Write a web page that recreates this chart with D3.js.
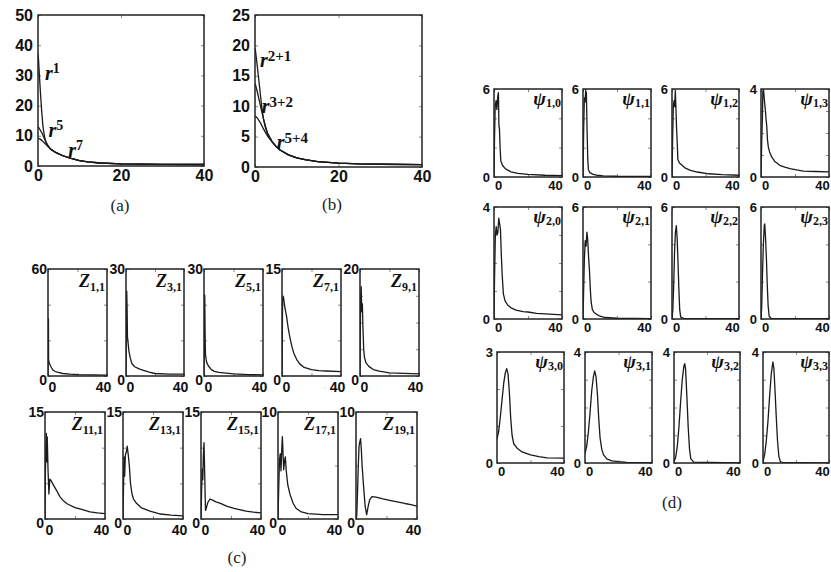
<!DOCTYPE html>
<html><head><meta charset="utf-8">
<script src="https://cdn.jsdelivr.net/npm/d3@7"></script>
<style>body{margin:0;background:#fff}svg{display:block}</style>
</head><body>
<svg id="c" width="831" height="572"></svg>
<script>
// ---------------- DATA ----------------
// Panel (a): radial functions r^1, r^5, r^7
const a_r1 = [[0.05,37],[0.3,31],[0.6,24],[0.9,18],[1.2,13],[1.6,9.5],[2,7.5],[3,5.6],[4,4.7],[5,4],[6,3.4],[7,2.9],[8,2.5],[10,1.8],[12,1.4],[15,1.0],[20,0.7],[25,0.6],[30,0.55],[40,0.5]];
const a_r5 = [[0.05,13],[0.5,12],[1,10.8],[1.5,9.2],[2,7.8],[2.5,6.5],[3,5.6],[4,4.7],[5,4],[6,3.4],[7,2.9],[8,2.5],[10,1.8],[12,1.4],[15,1.0],[20,0.7],[25,0.6],[30,0.55],[40,0.5]];
const a_r7 = [[0.05,9.2],[0.5,8.9],[1,8.4],[1.5,7.7],[2,7],[2.5,6.3],[3,5.7],[4,4.7],[5,4],[6,3.4],[7,2.9],[8,2.5],[10,1.8],[12,1.4],[15,1.0],[20,0.7],[25,0.6],[30,0.55],[40,0.5]];
const a_yTicks = [0,10,20,30,40,50];
// Panel (b): r^2+1, r^3+2, r^5+4
const b_r2p1 = [[0.05,19.5],[0.4,17.5],[0.8,15],[1.2,12.5],[1.6,10],[2,8],[2.5,6.5],[3,5.4],[4,4.3],[5,3.4],[6,2.8],[8,2],[10,1.5],[12,1.2],[15,0.9],[20,0.65],[25,0.5],[30,0.45],[40,0.4]];
const b_r3p2 = [[0.05,13.7],[0.5,12.5],[1,11],[1.5,9.5],[2,8],[2.5,6.7],[3,5.6],[4,4.3],[5,3.4],[6,2.8],[8,2],[10,1.5],[12,1.2],[15,0.9],[20,0.65],[25,0.5],[30,0.45],[40,0.4]];
const b_r5p4 = [[0.05,8.4],[0.5,8.1],[1,7.6],[1.5,7],[2,6.3],[2.5,5.7],[3,5.1],[4,4.2],[5,3.4],[6,2.8],[8,2],[10,1.5],[12,1.2],[15,0.9],[20,0.65],[25,0.5],[30,0.45],[40,0.4]];
const b_yTicks = [0,5,10,15,20,25];
const ab_xTicks = [0,20,40];

// Panel (c): Zernike-like radial profiles
const Z1_1  = [[0,0],[0.1,32],[0.3,32],[0.4,9],[0.8,7.5],[1.5,6],[2.5,4.5],[3.5,3.2],[5,2.5],[7,2],[10,1.4],[15,1],[20,0.8],[30,0.6],[40,0.5]];
const Z3_1  = [[0,0],[0.3,22],[0.5,23.8],[0.8,18],[1,11],[1.5,9],[2,7],[3,5],[4,3.5],[6,2.6],[9,2],[12,1.6],[16,1.1],[20,0.7],[30,0.55],[40,0.5]];
const Z5_1  = [[0,0],[0.3,15],[0.5,22.7],[0.8,10],[1,6],[1.5,4.5],[2,3.6],[3,2.8],[5,1.8],[7,1.3],[10,1],[15,0.8],[20,0.6],[30,0.4],[40,0.3]];
const Z7_1  = [[0,0],[0.4,10.5],[0.8,11.2],[1.2,10.8],[2,9.5],[3,8.5],[4,7],[5,5.8],[6,4.8],[7,3.9],[8,3.2],[10,2.3],[12,1.7],[15,1.2],[20,0.9],[25,0.75],[30,0.7],[40,0.6]];
const Z9_1  = [[0,0],[0.4,14],[0.8,16.7],[1.2,12],[1.6,13.5],[2,9],[2.5,5],[3,3.5],[4,2.5],[6,1.8],[9,1.2],[13,0.9],[20,0.6],[30,0.5],[40,0.4]];
const Z11_1 = [[0,0],[0.3,7],[0.6,10],[0.9,12],[1.2,8],[1.5,11.5],[2,7],[2.6,3.5],[3.2,5.6],[4,5.4],[5,5],[6,4.6],[8,3.9],[10,3.1],[12,2.6],[15,2.1],[20,1.6],[25,1.3],[30,1],[35,0.85],[40,0.75]];
const Z13_1 = [[0,0],[0.3,4],[0.7,8.7],[1.1,6],[1.6,9],[2.2,9.4],[2.8,10.2],[3.5,9],[4.2,7.5],[5,5],[6,3.5],[7,2.8],[9,2.2],[12,1.6],[18,1.1],[25,0.7],[32,0.55],[40,0.45]];
const Z15_1 = [[0,0],[0.4,4],[0.8,7],[1.2,5.5],[1.6,9],[2,10.7],[2.5,6],[3,1.2],[3.5,1.5],[4.5,2.3],[6,2.8],[8,2.6],[10,2.4],[13,2.2],[17,1.8],[22,1.5],[30,1.1],[35,0.95],[40,0.85]];
const Z17_1 = [[0,0],[0.5,3],[1,5.5],[1.5,6.1],[2,4.5],[2.5,6.5],[2.9,7.7],[3.4,6],[3.8,4.6],[4.4,5.5],[4.9,5.8],[5.5,4.5],[6.5,3.2],[8,2.3],[10,1.5],[12,1],[15,0.7],[20,0.5],[30,0.4],[40,0.4]];
const Z19_1 = [[0,0],[0.5,0.3],[1,2.5],[1.5,5],[2,6.8],[2.5,7.2],[3,7.5],[3.5,6.5],[4,5],[5,3],[6,1.2],[7,0.4],[8,1.2],[9,1.8],[10.5,2.1],[13,2.05],[17,1.9],[22,1.75],[27,1.6],[32,1.45],[36,1.35],[40,1.2]];
const zSeries = [Z1_1,Z3_1,Z5_1,Z7_1,Z9_1,Z11_1,Z13_1,Z15_1,Z17_1,Z19_1];
const zNames  = ["1,1","3,1","5,1","7,1","9,1","11,1","13,1","15,1","17,1","19,1"];
const zMax    = [60,30,30,15,20,15,15,15,10,10];

// Panel (d): psi_{n,m} radial profiles
const psi1_0 = [[0,0],[0.3,2.6],[0.7,4.8],[1.2,5.2],[1.7,4.6],[2.2,5.5],[2.6,5.75],[2.9,3.5],[3.2,3.3],[3.6,2],[4,1.1],[5,0.8],[6,0.65],[7.5,0.5],[10,0.35],[14,0.25],[20,0.18],[30,0.12],[40,0.1]];
const psi1_1 = [[0,0],[0.4,3.2],[0.8,5.4],[1.2,5.1],[1.6,5.9],[2,5.7],[2.4,3.2],[2.8,1.2],[3.2,0.5],[4,0.3],[6,0.18],[8,0.12],[12,0.08],[20,0.05],[40,0.04]];
const psi1_2 = [[0,0],[0.4,2.8],[0.8,4.8],[1.2,5.2],[1.6,4.8],[2,5.9],[2.4,4.5],[2.7,3.4],[3.1,2.4],[3.5,1.2],[4.5,0.95],[6,0.8],[8,0.6],[11,0.45],[15,0.34],[22,0.22],[30,0.16],[40,0.12]];
const psi1_3 = [[0,0],[0.4,1.5],[0.8,2.6],[1.1,3.9],[1.5,3.95],[2,3.5],[2.6,3.0],[3,2.6],[3.4,2.3],[3.8,1.7],[4.3,1.37],[5,1.15],[6.3,0.91],[8,0.72],[11,0.53],[14,0.45],[17,0.38],[21,0.32],[25,0.27],[32,0.25],[40,0.23]];
const psi2_0 = [[0,0],[0.3,1.4],[0.8,3.0],[1.3,3.3],[1.8,3.0],[2.3,3.1],[2.8,3.6],[3.3,3.4],[3.8,3.2],[4.3,2.3],[4.8,1.6],[5.5,0.9],[6.5,0.65],[8,0.5],[10,0.4],[13,0.32],[17,0.26],[20,0.25],[25,0.2],[30,0.18],[40,0.15]];
const psi2_1 = [[0,0],[0.3,1.2],[0.8,3.2],[1.3,4.2],[1.8,3.9],[2.3,4.65],[2.8,4.2],[3.3,3.3],[3.8,2.6],[4.3,1.6],[4.8,0.9],[5.5,0.5],[6.5,0.35],[8,0.25],[10,0.15],[13,0.08],[20,0.04],[40,0.02]];
const psi2_2 = [[0,0],[0.5,0.5],[1,1.8],[1.5,3.5],[2,4.6],[2.6,5.0],[3.1,4.3],[3.6,3.0],[4.1,1.6],[4.6,0.5],[5.2,0.1],[7,0.03],[40,0.02]];
const psi2_3 = [[0,0],[0.4,0.6],[0.9,2.5],[1.4,4.0],[1.9,5.0],[2.2,5.1],[2.7,4.3],[3.2,3.2],[3.7,1.8],[4.2,0.7],[4.8,0.15],[6,0.03],[40,0.02]];
const psi3_0 = [[0,0.65],[1,0.85],[2,1.25],[3,1.7],[4,2.15],[5,2.45],[5.8,2.55],[6.6,2.4],[7.4,1.9],[8.2,1.2],[9,0.75],[10,0.52],[12,0.4],[15,0.3],[20,0.22],[25,0.17],[30,0.14],[40,0.13]];
const psi3_1 = [[0,0.35],[1,0.6],[2,1.1],[3,1.8],[4,2.6],[5,3.1],[5.8,3.32],[6.6,3.1],[7.4,2.5],[8.2,1.6],[9,0.9],[10,0.5],[11,0.3],[13,0.15],[16,0.08],[20,0.05],[25,0.02],[40,0]];
const psi3_2 = [[0,0.05],[1,0.2],[2,0.6],[3,1.3],[4,2.2],[5,3.0],[6,3.5],[6.5,3.58],[7,3.4],[7.8,2.4],[8.6,1.3],[9.4,0.5],[10.2,0.15],[12,0.03],[40,0]];
const psi3_3 = [[0,0.05],[1,0.3],[2,0.8],[3,1.5],[4,2.4],[5,3.2],[6,3.64],[6.6,3.4],[7.3,2.6],[8,1.7],[8.8,0.8],[9.6,0.25],[10.5,0.05],[12,0.01],[40,0]];
const psiSeries = [psi1_0,psi1_1,psi1_2,psi1_3,psi2_0,psi2_1,psi2_2,psi2_3,psi3_0,psi3_1,psi3_2,psi3_3];
const psiNames  = ["1,0","1,1","1,2","1,3","2,0","2,1","2,2","2,3","3,0","3,1","3,2","3,3"];
const psiMax    = [6,6,6,4,4,6,6,6,3,4,4,4];
const small_xTicks = [0,20,40];
const small_xLabels = [0,40];

// ---------------- LAYOUT ----------------
const svg = d3.select("#c");
svg.append("rect").attr("width",831).attr("height",572).attr("fill","#fff");
const SANS = "'Liberation Sans', Arial, sans-serif";
const SERIF = "'Liberation Serif', 'Times New Roman', serif";
const fmt = d3.format("d");
let clipId = 0;

function panel(box, yMax, curves, cfg) {
  const [x0,y0,x1,y1] = box;
  const x = d3.scaleLinear().domain([0,40]).range([x0,x1]);
  const y = d3.scaleLinear().domain([0,yMax]).range([y1,y0]);
  const g = svg.append("g");
  const yt = cfg.yTicks || y.ticks(3);
  const xt = cfg.xTicks;
  const tk = (axis, tr, vals) => {
    const a = g.append("g").attr("transform",tr)
      .call(axis.tickValues(vals).tickSizeInner(-3).tickSizeOuter(0).tickFormat(""));
    a.select(".domain").remove();
    a.selectAll("line").attr("stroke","#888").attr("stroke-width",1);
  };
  tk(d3.axisBottom(x), `translate(0,${y1})`, xt);
  tk(d3.axisTop(x), `translate(0,${y0})`, xt);
  tk(d3.axisLeft(y), `translate(${x0},0)`, yt);
  tk(d3.axisRight(y), `translate(${x1},0)`, yt);
  const id = "cl" + (clipId++);
  g.append("clipPath").attr("id",id).append("rect")
    .attr("x",x0).attr("y",y0).attr("width",x1-x0).attr("height",y1-y0);
  const line = d3.line().x(d=>x(d[0])).y(d=>y(d[1]));
  curves.forEach(c => g.append("path").attr("d",line(c)).attr("clip-path",`url(#${id})`)
    .attr("fill","none").attr("stroke","#1a1a1a").attr("stroke-width",1.3).attr("stroke-linejoin","round"));
  g.append("rect").attr("x",x0).attr("y",y0).attr("width",x1-x0).attr("height",y1-y0)
    .attr("fill","none").attr("stroke","#222").attr("stroke-width",1.5);
  // labels
  const xl = g.append("g").attr("transform",`translate(0,${y1})`)
    .call(d3.axisBottom(x).tickValues(cfg.xLabels).tickFormat(fmt).tickSize(0).tickPadding(cfg.xPad));
  xl.select(".domain").remove();
  xl.selectAll("text").style("font-family",SANS).style("font-size",cfg.fs+"px").style("font-weight","700")
    .attr("fill","#111").attr("dx",(d,i)=>cfg.xShift ? cfg.xShift[i] : 0);
  const yl = g.append("g").attr("transform",`translate(${x0},0)`)
    .call(d3.axisLeft(y).tickValues(cfg.yLabels || [0,yMax]).tickFormat(fmt).tickSize(0).tickPadding(cfg.yPad));
  yl.select(".domain").remove();
  yl.selectAll("text").style("font-family",SANS).style("font-size",cfg.fs+"px").style("font-weight","700")
    .attr("fill","#111").attr("y", d => d===0 ? (cfg.y0Shift||0) : 0);
  return {g,x,y};
}

function mathLabel(g, px, py, base, sub, opts) {
  const t = g.append("text").attr("x",px).attr("y",py).attr("fill","#111")
    .attr("text-anchor",opts.anchor||"start");
  t.append("tspan").style("font-family",SERIF).style("font-style","italic")
    .style("font-weight",opts.bw||"700").style("font-size",opts.bs+"px").text(base);
  t.append("tspan").style("font-family",SERIF).style("font-weight","700")
    .style("font-size",opts.ss+"px").attr("dy",opts.dy).text(sub);
}

// Panel (a)
{
  const p = panel([38,15,204,166], 50, [a_r1,a_r5,a_r7],
    {xTicks:ab_xTicks, yTicks:a_yTicks, xLabels:ab_xTicks, yLabels:a_yTicks, fs:16, xPad:4, yPad:5});
  mathLabel(p.g, p.x(1.7), p.y(28.5), "r", "1", {bs:20, ss:14, dy:-7});
  mathLabel(p.g, p.x(2.5), p.y(9.5), "r", "5", {bs:20, ss:14, dy:-7});
  mathLabel(p.g, p.x(7.3), p.y(3.1), "r", "7", {bs:20, ss:14, dy:-7});
  svg.append("text").attr("x",120).attr("y",211).attr("text-anchor","middle")
    .style("font-family",SERIF).style("font-size","17px").attr("fill","#222").text("(a)");
}
// Panel (b)
{
  const p = panel([255,15,422,167], 25, [b_r2p1,b_r3p2,b_r5p4],
    {xTicks:ab_xTicks, yTicks:b_yTicks, xLabels:ab_xTicks, yLabels:b_yTicks, fs:16, xPad:4, yPad:5});
  mathLabel(p.g, p.x(1.2), p.y(16.5), "r", "2+1", {bs:20, ss:15, dy:-6});
  mathLabel(p.g, p.x(1.6), p.y(8.8), "r", "3+2", {bs:20, ss:15, dy:-6});
  mathLabel(p.g, p.x(5.2), p.y(3.0), "r", "5+4", {bs:20, ss:15, dy:-6});
  svg.append("text").attr("x",332).attr("y",210).attr("text-anchor","middle")
    .style("font-family",SERIF).style("font-size","17px").attr("fill","#222").text("(b)");
}
// Panel (c)
{
  const cols = [[[48,107],[126,184],[204,263],[282,341],[360,419]],
                [[45,105],[123,183],[201,261],[278,338],[356,417]]];
  const rows = [[269,376],[412,519]];
  zSeries.forEach((s,i) => {
    const r = Math.floor(i/5), c = i%5;
    const box = [cols[r][c][0], rows[r][0], cols[r][c][1], rows[r][1]];
    const p = panel(box, zMax[i], [s],
      {xTicks:small_xTicks, xLabels:small_xLabels, fs:14, xPad:6, yPad:1, y0Shift:4, xShift:[4,-4]});
    mathLabel(p.g, box[2]-2, box[1]+18, "Z", zNames[i], {bs:18, ss:12, dy:4, anchor:"end"});
  });
  svg.append("text").attr("x",237).attr("y",563).attr("text-anchor","middle")
    .style("font-family",SERIF).style("font-size","17px").attr("fill","#222").text("(c)");
}
// Panel (d)
{
  const cols = [[[494,562],[583,651],[672,739],[761,829]],
                [[494,562],[583,651],[672,739],[761,829]],
                [[497,564],[585,652],[674,740],[763,829]]];
  const rows = [[89,177],[207,319],[352,463]];
  psiSeries.forEach((s,i) => {
    const r = Math.floor(i/4), c = i%4;
    const box = [cols[r][c][0], rows[r][0], cols[r][c][1], rows[r][1]];
    const p = panel(box, psiMax[i], [s],
      {xTicks:small_xTicks, xLabels:small_xLabels, fs:13, xPad:4, yPad:4, xShift:[4,-7]});
    mathLabel(p.g, box[2]-1, box[1]+16, "\u03C8", psiNames[i], {bs:19, ss:12, dy:2, anchor:"end"});
  });
  svg.append("text").attr("x",672).attr("y",508).attr("text-anchor","middle")
    .style("font-family",SERIF).style("font-size","17px").attr("fill","#222").text("(d)");
}
</script>
</body></html>
